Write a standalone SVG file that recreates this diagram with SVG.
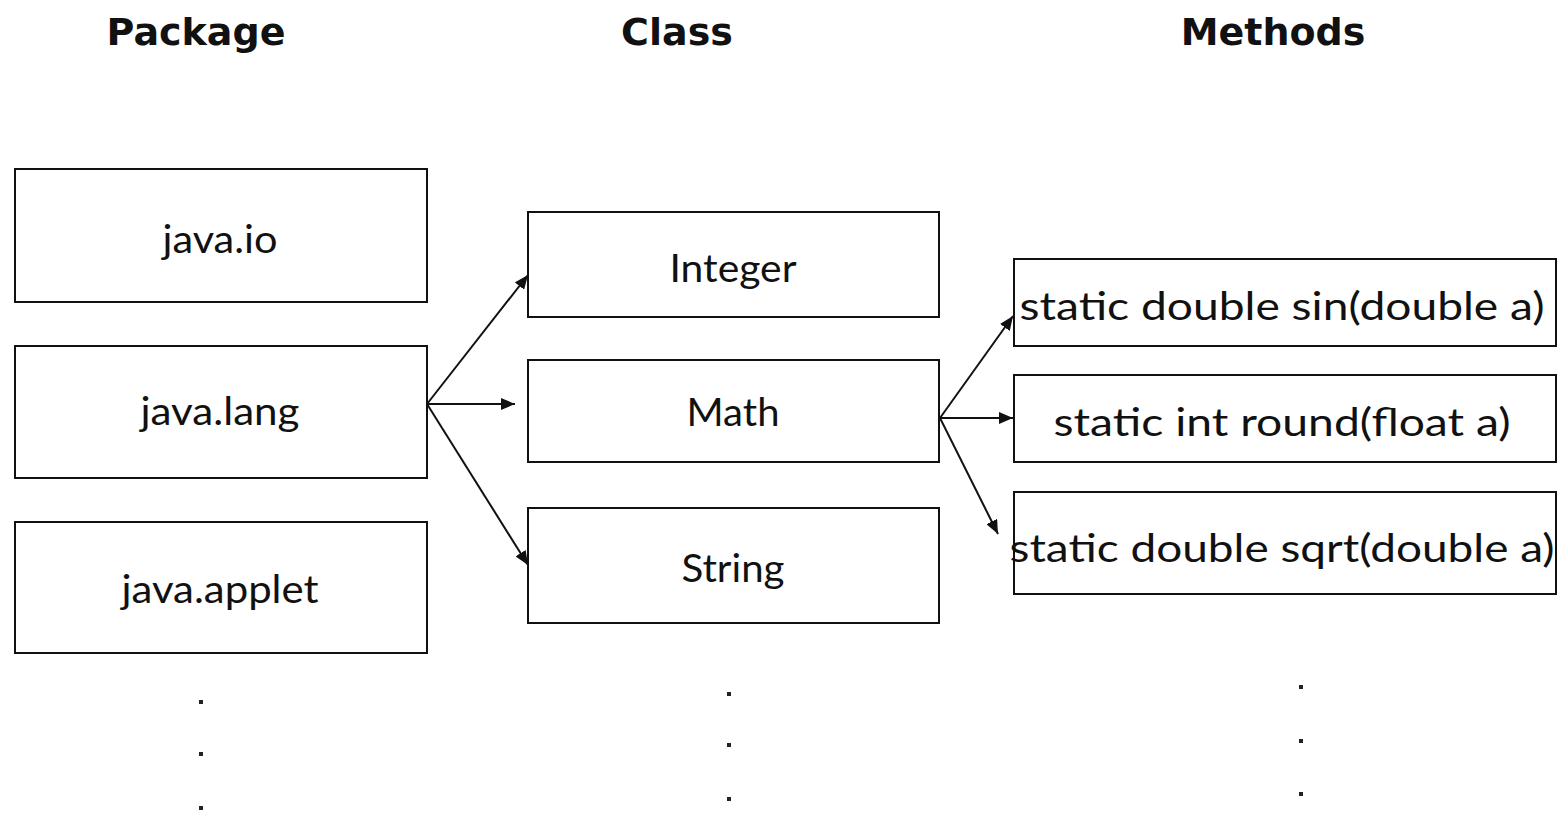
<svg xmlns="http://www.w3.org/2000/svg" width="1561" height="815" viewBox="0 0 1561 815">
<style>
.box{fill:#fff;stroke:#111;stroke-width:2}
.t{font-family:Lato,"Liberation Sans",sans-serif;font-size:39px;fill:#111;text-anchor:middle}
.h{font-family:"DejaVu Sans",Verdana,sans-serif;font-weight:bold;font-size:38px;fill:#111;text-anchor:middle}
.c{stroke:#111;stroke-width:2;fill:none;marker-end:url(#ah)}
.dot{fill:#222}
</style>
<defs>
<marker id="ah" markerUnits="userSpaceOnUse" markerWidth="16" markerHeight="12" refX="14" refY="6" orient="auto">
<path d="M0,0 L14,6 L0,12 Z" fill="#111"/>
</marker>
</defs>
<rect width="1561" height="815" fill="#fff"/>
<g id="headers">
<text class="h" x="196" y="45">Package</text>
<text class="h" x="677" y="45">Class</text>
<text class="h" x="1273" y="45">Methods</text>
</g>
<g id="connectors">
<line class="c" x1="427" y1="404" x2="528" y2="275"/>
<line class="c" x1="427" y1="404" x2="515" y2="404"/>
<line class="c" x1="427" y1="404" x2="528" y2="565"/>
<line class="c" x1="940" y1="418" x2="1013" y2="316"/>
<line class="c" x1="940" y1="418" x2="1013" y2="418"/>
<line class="c" x1="940" y1="418" x2="998" y2="534"/>
</g>
<g id="java-io"><rect class="box" x="15" y="169" width="412" height="133"/><text class="t" x="220" y="253" textLength="115" lengthAdjust="spacingAndGlyphs">java.io</text></g>
<g id="java-lang"><rect class="box" x="15" y="346" width="412" height="132"/><text class="t" x="220" y="425" textLength="159" lengthAdjust="spacingAndGlyphs">java.lang</text></g>
<g id="java-applet"><rect class="box" x="15" y="522" width="412" height="131"/><text class="t" x="220" y="603" textLength="197" lengthAdjust="spacingAndGlyphs">java.applet</text></g>
<g id="integer"><rect class="box" x="528" y="212" width="411" height="105"/><text class="t" x="733" y="282" textLength="127" lengthAdjust="spacingAndGlyphs">Integer</text></g>
<g id="math"><rect class="box" x="528" y="360" width="411" height="102"/><text class="t" x="733" y="426" textLength="93" lengthAdjust="spacingAndGlyphs">Math</text></g>
<g id="string"><rect class="box" x="528" y="508" width="411" height="115"/><text class="t" x="733" y="582" textLength="103" lengthAdjust="spacingAndGlyphs">String</text></g>
<g id="sin"><rect class="box" x="1014" y="259" width="542" height="87"/><text class="t" x="1282" y="320" textLength="525" lengthAdjust="spacingAndGlyphs">static double sin(double a)</text></g>
<g id="round"><rect class="box" x="1014" y="375" width="542" height="87"/><text class="t" x="1282" y="436" textLength="457" lengthAdjust="spacingAndGlyphs">static int round(float a)</text></g>
<g id="sqrt"><rect class="box" x="1014" y="492" width="542" height="102"/><text class="t" x="1282" y="562" textLength="545" lengthAdjust="spacingAndGlyphs">static double sqrt(double a)</text></g>
<g id="dots">
<rect class="dot" x="199" y="700" width="4" height="4"/>
<rect class="dot" x="199" y="752" width="4" height="4"/>
<rect class="dot" x="199" y="806" width="4" height="4"/>
<rect class="dot" x="727" y="692" width="4" height="4"/>
<rect class="dot" x="727" y="743" width="4" height="4"/>
<rect class="dot" x="727" y="797" width="4" height="4"/>
<rect class="dot" x="1299" y="685" width="4" height="4"/>
<rect class="dot" x="1299" y="739" width="4" height="4"/>
<rect class="dot" x="1299" y="792" width="4" height="4"/>
</g>
</svg>
